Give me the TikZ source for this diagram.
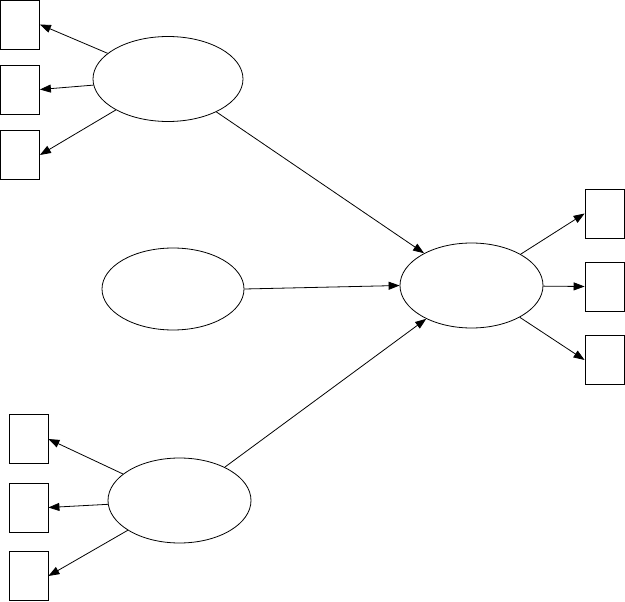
\documentclass[tikz,border=0pt]{standalone}
\usepackage{tikz}
\usetikzlibrary{arrows.meta, shapes.geometric}
\tikzset{
  latent/.style={
    ellipse, draw=black, line width=0.8pt, fill=white,
    minimum width=#1, minimum height=85pt, inner sep=0pt
  },
  latent/.default=143pt,
  indic/.style={
    rectangle, draw=black, line width=0.8pt, fill=white,
    minimum width=39pt, minimum height=49pt, inner sep=0pt
  },
  patharrow/.style={-{Triangle[length=11pt, width=8pt]}, line width=0.8pt, color=black},
}

\begin{document}
\begin{tikzpicture}[x=1pt, y=-1pt]
  \useasboundingbox (0,0) rectangle (625,602);
  % latent variables
  \node[latent=150pt] (latA) at (168,79)    {};
  \node[latent=142pt, minimum height=82pt] (latB) at (173,289) {};
  \node[latent] (latC) at (179.5,500.5)     {};
  \node[latent] (latD) at (471.5,285.5)     {};
  % indicators of latA
  \node[indic] (a1) at (20,24.5)  {};
  \node[indic] (a2) at (20,89.5)  {};
  \node[indic] (a3) at (20,155)   {};
  % indicators of latC
  \node[indic] (c1) at (28.5,439)   {};
  \node[indic] (c2) at (28.5,507.5) {};
  \node[indic] (c3) at (28.5,576)   {};
  % indicators of latD
  \node[indic] (d1) at (604.5,213.5) {};
  \node[indic] (d2) at (604.5,286.5) {};
  \node[indic] (d3) at (604.5,360)   {};
  % measurement paths
  \foreach \i in {1,2,3} {
    \draw[patharrow] (latA) -- (a\i.east);
    \draw[patharrow] (latC) -- (c\i.east);
    \draw[patharrow] (latD) -- (d\i.west);
  }
  % structural paths
  \draw[patharrow] (latA) -- (latD);
  \draw[patharrow] (latB.east) -- (latD.west);
  \draw[patharrow] (latC) -- (latD);
\end{tikzpicture}
\end{document}
